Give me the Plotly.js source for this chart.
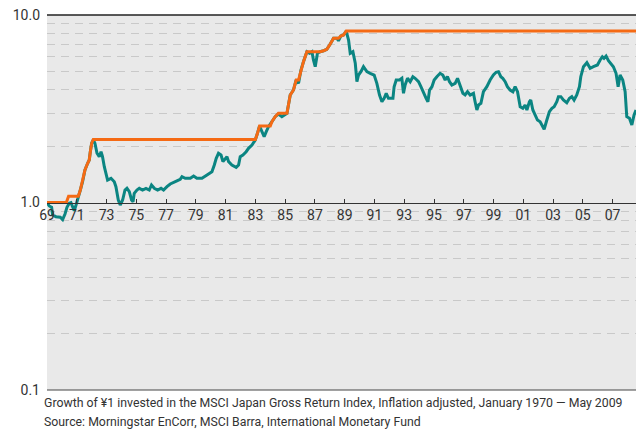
<!DOCTYPE html>
<html>
<head>
<meta charset="utf-8">
<script src="https://cdn.plot.ly/plotly-3.0.1.min.js"></script>
<style>
  html, body { margin: 0; padding: 0; background: #ffffff; }
  #chart { width: 636px; height: 431px; }
</style>
</head>
<body>
<div id="chart"></div>
<script>
// Growth of 1 yen, inflation adjusted (teal) — x in axis years
const indexYears = [
  1969.00,1969.08,1969.15,1969.31,1969.38,1969.60,1969.89,1970.05,1970.21,1970.34,1970.50,1970.61,1970.72,1970.83,1970.95,
  1971.06,1971.24,1971.39,1971.55,1971.73,1971.84,1971.91,1972.00,1972.11,1972.22,1972.36,1972.51,1972.63,1972.73,1972.85,1972.96,
  1973.07,1973.30,1973.52,1973.63,1973.79,1973.92,1974.08,1974.24,1974.37,1974.53,1974.68,1974.78,1974.86,1975.04,1975.20,1975.42,
  1975.65,1975.87,1976.02,1976.21,1976.43,1976.66,1976.83,1977.06,1977.28,1977.62,1977.95,1978.07,1978.29,1978.63,1978.85,1979.07,
  1979.41,1979.75,1980.08,1980.24,1980.37,1980.52,1980.69,1980.82,1980.97,1981.09,1981.20,1981.42,1981.71,1981.87,1981.98,1982.16,
  1982.38,1982.54,1982.77,1982.99,1983.14,1983.28,1983.44,1983.59,1983.73,1983.88,1984.11,1984.33,1984.55,1984.78,1985.12,1985.23,
  1985.34,1985.56,1985.74,1985.90,1986.06,1986.23,1986.46,1986.64,1986.80,1986.90,1987.02,1987.17,1987.35,1987.58,1987.80,1988.03,
  1988.25,1988.48,1988.58,1988.74,1988.92,1989.10,1989.26,1989.37,1989.55,1989.71,1989.82,1989.93,1990.09,1990.26,1990.49,1990.71,
  1990.98,1991.16,1991.34,1991.50,1991.65,1991.79,1991.94,1992.24,1992.32,1992.46,1992.68,1992.84,1992.95,1993.06,1993.22,1993.40,
  1993.58,1993.73,1993.96,1994.12,1994.29,1994.47,1994.59,1994.70,1994.86,1995.01,1995.19,1995.41,1995.59,1995.75,1995.90,1996.04,
  1996.20,1996.42,1996.58,1996.76,1996.94,1997.09,1997.25,1997.43,1997.65,1997.76,1997.88,1997.99,1998.15,1998.32,1998.55,1998.77,
  1998.99,1999.17,1999.33,1999.49,1999.62,1999.78,1999.93,2000.11,2000.30,2000.45,2000.61,2000.79,2000.97,2001.12,2001.24,2001.41,
  2001.50,2001.64,2001.79,2001.95,2002.13,2002.31,2002.40,2002.58,2002.75,2002.92,2003.07,2003.25,2003.36,2003.52,2003.69,2003.92,
  2004.10,2004.26,2004.41,2004.59,2004.77,2004.86,2005.04,2005.27,2005.37,2005.49,2005.71,2005.98,2006.16,2006.31,2006.42,2006.56,
  2006.72,2006.88,2007.05,2007.23,2007.37,2007.50,2007.68,2007.84,2007.95,2008.13,2008.29,2008.44,2008.57
];
const indexValues = [
  1.00,0.97,0.958,0.943,0.858,0.840,0.834,0.810,0.868,0.943,0.990,0.998,0.943,0.904,0.970,
  1.053,1.166,1.291,1.490,1.619,1.685,1.866,2.069,2.16,2.069,1.830,1.755,1.866,1.755,1.552,1.431,
  1.318,1.346,1.291,1.214,1.031,0.970,1.031,1.166,1.190,1.142,1.031,1.010,1.120,1.166,1.190,1.166,
  1.190,1.166,1.240,1.190,1.166,1.190,1.166,1.214,1.255,1.291,1.329,1.373,1.346,1.346,1.385,1.346,
  1.346,1.402,1.459,1.585,1.721,1.830,1.792,1.651,1.721,1.755,1.651,1.585,1.541,1.585,1.755,1.792,
  1.866,1.945,2.026,2.154,2.339,2.559,2.386,2.243,2.386,2.537,2.697,2.868,2.965,2.868,2.990,3.381,
  3.744,3.981,4.501,4.322,5.089,5.636,6.372,6.248,6.372,5.754,5.300,6.248,6.372,6.450,6.562,7.003,
  7.511,7.511,7.293,7.727,7.822,8.20,7.356,6.248,6.372,5.526,4.409,4.786,4.984,5.300,4.984,4.887,
  4.786,4.322,3.744,3.448,3.595,3.823,3.595,3.595,4.146,4.501,4.501,4.597,3.823,4.233,4.597,4.409,
  4.688,4.597,4.409,4.146,3.823,3.595,3.448,3.981,4.146,4.501,4.688,4.887,4.786,4.501,4.688,4.409,
  4.233,4.322,4.597,4.233,3.823,3.744,3.898,3.744,3.823,3.448,3.114,3.311,3.381,3.898,4.146,4.501,
  4.786,4.948,4.984,4.688,4.597,4.409,4.146,3.981,3.898,4.146,3.898,3.243,3.180,3.311,3.114,3.448,
  3.521,3.114,2.929,2.754,2.697,2.518,2.458,2.754,3.050,3.180,3.243,3.448,3.667,3.667,3.521,3.406,
  3.595,3.667,3.521,3.744,4.146,4.688,5.300,5.567,5.412,5.196,5.300,5.412,5.754,5.992,5.876,6.044,
  5.706,5.479,5.300,4.887,4.146,4.786,4.501,3.898,2.868,2.812,2.591,2.929,3.114
];
// Previous peak (orange)
const peakYears = [
  1969.00,1970.30,1970.45,1971.10,1971.24,1971.39,1971.55,1971.73,1971.84,1971.91,1972.00,1972.11,
  1983.00,1983.14,1983.28,1984.00,1984.11,1984.33,1984.55,1985.12,1985.23,1985.34,1985.56,1985.74,1985.90,
  1986.06,1986.23,1986.46,1987.35,1987.58,1987.80,1988.03,1988.25,1988.58,1988.74,1988.92,1989.10,2008.57
];
const peakValues = [
  1.00,1.00,1.08,1.08,1.166,1.291,1.490,1.619,1.685,1.866,2.069,2.17,
  2.17,2.339,2.56,2.56,2.697,2.868,2.99,2.99,3.381,3.744,3.981,4.501,4.501,
  5.089,5.636,6.372,6.372,6.45,6.562,7.003,7.511,7.511,7.727,7.822,8.22,8.22
];
const xTickYears = [1969,1971,1973,1975,1977,1979,1981,1983,1985,1987,1989,1991,1993,1995,1997,1999,2001,2003,2005,2007];
const xTickLabels = ['69','71','73','75','77','79','81','83','85','87','89','91','93','95','97','99','01','03','05','07'];
const yTickValues = [0.1, 1, 10];
const yTickLabels = ['0.1', '1.0', '10.0'];
const yMinorValues = [0.2,0.3,0.4,0.5,0.6,0.7,0.8,0.9,2,3,4,5,6,7,8,9];
const captionLines = [
  'Growth of ¥1 invested in the MSCI Japan Gross Return Index, Inflation adjusted, January 1970 \u2014 May 2009',
  'Source: Morningstar EnCorr, MSCI Barra, International Monetary Fund'
];

const FONT = 'Roboto, "Liberation Sans", sans-serif';

const traces = [
  {
    x: indexYears, y: indexValues, type: 'scatter', mode: 'lines',
    line: { color: '#0b8582', width: 3 }, hoverinfo: 'skip'
  },
  {
    x: peakYears, y: peakValues, type: 'scatter', mode: 'lines',
    line: { color: '#f56a14', width: 3 }, hoverinfo: 'skip'
  }
];

const layout = {
  width: 636, height: 431,
  margin: { l: 47, r: 0, t: 15, b: 41 },
  paper_bgcolor: '#ffffff',
  plot_bgcolor: '#e9e9e9',
  showlegend: false,
  font: { family: FONT, size: 13, color: '#333333' },
  xaxis: {
    range: [1969, 2008.57],
    tickvals: xTickYears, ticktext: xTickLabels,
    anchor: 'free', position: 0.5,
    showline: true, linecolor: '#333333', linewidth: 1,
    ticks: 'inside', ticklen: 4, tickcolor: '#333333', tickwidth: 1,
    showgrid: false, zeroline: false,
    tickfont: { family: FONT, size: 14, color: '#333333' }
  },
  yaxis: {
    type: 'log', range: [-1, 1],
    tickvals: yTickValues, ticktext: yTickLabels,
    showgrid: false, zeroline: false, showline: false, ticks: '',
    ticklabelstandoff: 6,
    tickfont: { family: FONT, size: 14, color: '#333333' },
    minor: {
      tickvals: yMinorValues, showgrid: true,
      gridcolor: '#c9c9c9', griddash: '8px,6px', gridwidth: 1, ticks: ''
    }
  },
  shapes: [
    { type: 'line', xref: 'x domain', yref: 'y domain', x0: 0, x1: 1, y0: 1, y1: 1,
      line: { color: '#222222', width: 1.5 } },
    { type: 'line', xref: 'x domain', yref: 'y domain', x0: 0, x1: 1, y0: 0, y1: 0,
      line: { color: '#444444', width: 1 } }
  ],
  annotations: [
    { text: captionLines[0], xref: 'paper', yref: 'paper', x: -0.008, y: -0.011,
      xanchor: 'left', yanchor: 'top', showarrow: false,
      font: { family: FONT, size: 12.3, color: '#333333' } },
    { text: captionLines[1], xref: 'paper', yref: 'paper', x: -0.008, y: -0.061,
      xanchor: 'left', yanchor: 'top', showarrow: false,
      font: { family: FONT, size: 12.3, color: '#333333' } }
  ]
};

Plotly.newPlot('chart', traces, layout, { staticPlot: true, displayModeBar: false });
</script>
</body>
</html>
